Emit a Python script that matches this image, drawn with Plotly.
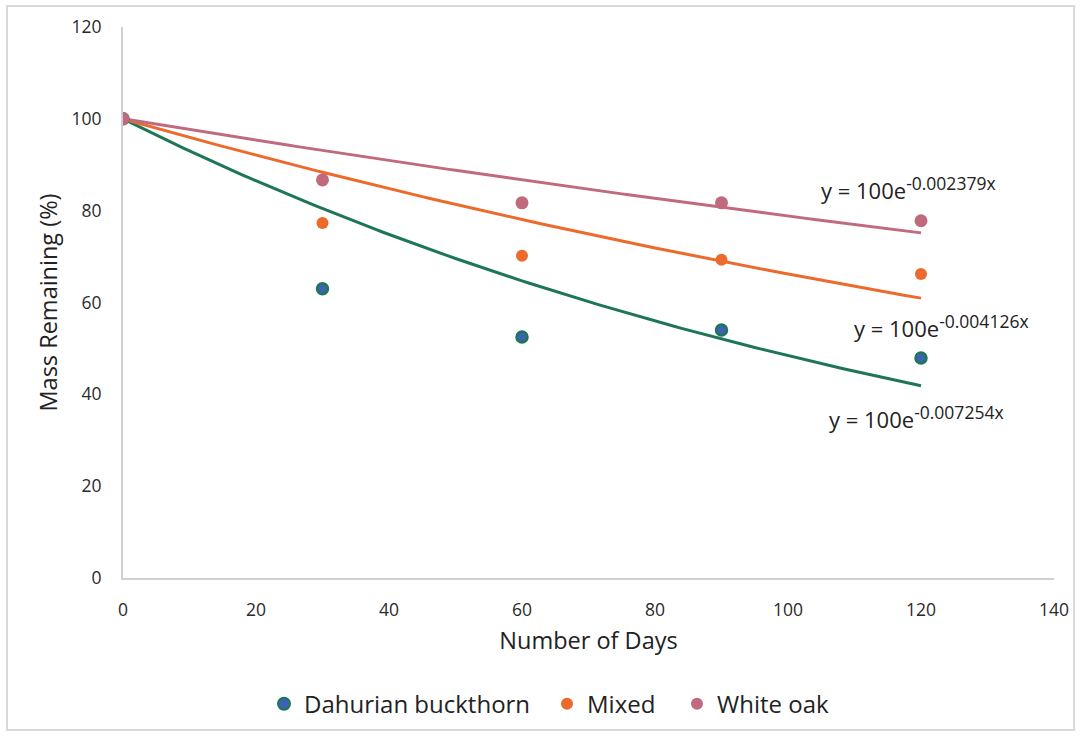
import numpy as np
import plotly.graph_objects as go

# Litter-bag sampling days and percent of initial mass remaining
days = [0, 30, 60, 90, 120]
dahurian = [100, 63.0, 52.5, 54.0, 47.9]
mixed = [100, 77.3, 70.2, 69.3, 66.2]
white_oak = [100, 86.7, 81.7, 81.7, 77.8]

# Fitted exponential decay constants: y = 100 e^(-k x)
k_dahurian = 0.007254
k_mixed = 0.004126
k_white_oak = 0.002379

names = ["Dahurian buckthorn", "Mixed", "White oak"]
x_ticks = [0, 20, 40, 60, 80, 100, 120, 140]
y_ticks = [0, 20, 40, 60, 80, 100, 120]

FONT = "'Open Sans', Lato, sans-serif"
GREEN = "#1f7656"
BLUE = "#3b62b3"
ORANGE = "#ec6a2c"
PINK = "#c06a7d"

fig = go.Figure()

xfit = np.linspace(0, 120, 121)
for k, color in [(k_dahurian, GREEN), (k_mixed, ORANGE), (k_white_oak, PINK)]:
    fig.add_trace(go.Scatter(
        x=xfit, y=100 * np.exp(-k * xfit), mode="lines",
        line=dict(color=color, width=3), showlegend=False, hoverinfo="skip",
    ))

series = [
    (names[0], dahurian, dict(color=BLUE, size=11, line=dict(color=GREEN, width=2.5)), "legend"),
    (names[1], mixed, dict(color=ORANGE, size=12, line=dict(color=ORANGE, width=0)), "legend2"),
    (names[2], white_oak, dict(color=PINK, size=13, line=dict(color=PINK, width=0)), "legend3"),
]
for name, vals, marker, leg in series:
    fig.add_trace(go.Scatter(x=days, y=vals, mode="markers", name=name,
                             marker=marker, legend=leg))

def eq_label(k):
    return f"y = 100e<sup><span style='font-size:17.5px'>-{k:.6f}x</span></sup>"

for k, ax, ay in [(k_white_oak, 104.6, 85.0), (k_mixed, 109.6, 54.9), (k_dahurian, 105.8, 35.1)]:
    fig.add_annotation(x=ax, y=ay, text=eq_label(k), showarrow=False,
                       xanchor="left", yanchor="middle",
                       font=dict(family=FONT, size=22, color="#222222"))

legend_style = dict(orientation="h", y=-0.229, yanchor="middle", xanchor="left",
                    font=dict(size=24, color="#222222"), itemsizing="constant",
                    bgcolor="rgba(0,0,0,0)")

fig.update_layout(
    width=1080, height=736,
    margin=dict(l=123, r=26, t=27, b=158, autoexpand=False),
    paper_bgcolor="white", plot_bgcolor="white",
    font=dict(family=FONT, color="#333333"),
    xaxis=dict(range=[0, 140], tickvals=x_ticks, showgrid=False, zeroline=False,
               showline=True, linecolor="#d0d0d0", linewidth=2, ticks="", automargin=False,
               tickfont=dict(size=17.5, color="#2a2a2a"), ticklabelstandoff=15,
               title=dict(text="Number of Days", font=dict(size=23.5, color="#222222"), standoff=13)),
    yaxis=dict(range=[0, 120], tickvals=y_ticks, showgrid=False, zeroline=False,
               showline=True, linecolor="#d0d0d0", linewidth=2, ticks="", automargin=False,
               tickfont=dict(size=17.5, color="#2a2a2a"), ticklabelstandoff=16,
               title=dict(text="Mass Remaining (%)", font=dict(size=23.5, color="#222222"), standoff=7)),
    legend=dict(x=(264 - 123) / 931, **legend_style),
    legend2=dict(x=(547 - 123) / 931, **legend_style),
    legend3=dict(x=(677 - 123) / 931, **legend_style),
)

# thin frame around the whole figure
fig.add_shape(type="rect", xref="paper", yref="paper",
              x0=-116/931, x1=1 + 20/931, y0=-(736 - 578 - 6)/551, y1=1 + 21/551,
              line=dict(color="#d9d9d9", width=2), fillcolor="rgba(0,0,0,0)")

fig.write_html("out.html")
